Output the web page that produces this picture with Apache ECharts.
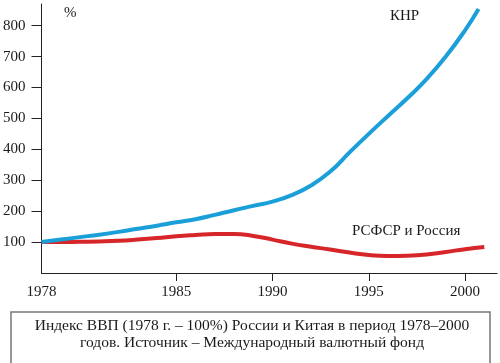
<!DOCTYPE html>
<html>
<head>
<meta charset="utf-8">
<script src="https://cdn.jsdelivr.net/npm/echarts@6/dist/echarts.min.js"></script>
<style>html,body{margin:0;padding:0;background:#fff}#c{width:500px;height:363px}</style>
</head>
<body>
<div id="c"></div>
<script>
// Data
const chinaYears = [1978,1979,1980,1981,1982,1983,1984,1985,1986,1987,1988,1989,1990,1991,1992,1993,1994,1995,1996,1997,1998,1999,2000,2000.7];
const chinaValues = [100,108,116,124,133,143,153,164,174,188,203,217,231,252,283,328,390,450,508,565,627,700,785,854];
const russiaYears = [1978,1979,1980,1981,1982,1983,1984,1985,1986,1987,1988,1989,1990,1991,1992,1993,1994,1995,1996,1997,1998,1999,2000,2001];
const russiaValues = [100,100,101,102,104,108,113,119,123,126,126,120,108,95,85,76,66,58,55,56,60,68,77,84];
const xLabelValues = [1978,1985,1990,1995,2000];
const xTickValues = [1985,1990,1995,2000];
const yTickValues = [100,200,300,400,500,600,700,800];
const seriesNames = ['КНР','РСФСР и Россия'];
const unitLabel = '%';
const captionText = 'Индекс ВВП (1978 г. – 100%) России и Китая в период 1978–2000\nгодов. Источник – Международный валютный фонд';

const font = '"Liberation Serif", "DejaVu Serif", serif';
const axisColor = '#222';
const chart = echarts.init(document.getElementById('c'), null, {renderer: 'canvas'});
chart.setOption({
  animation: false,
  backgroundColor: '#fff',
  grid: {left: 39, right: 3, top: 4, bottom: 90, containLabel: false},
  xAxis: {
    type: 'value', min: 1978, max: 2001.66,
    axisLine: {show: true, lineStyle: {color: axisColor, width: 1}},
    axisTick: {show: true, length: 8, inside: false, customValues: xTickValues, lineStyle: {color: axisColor}},
    axisLabel: {customValues: xLabelValues, margin: 12, color: '#1a1a1a', fontFamily: font, fontSize: 15, formatter: v => String(v)},
    splitLine: {show: false}
  },
  yAxis: {
    type: 'value', min: 0, max: 870,
    axisLine: {show: true, lineStyle: {color: axisColor, width: 1}},
    axisTick: {show: true, length: 10, inside: false, customValues: yTickValues, lineStyle: {color: axisColor}},
    axisLabel: {customValues: yTickValues, margin: 16, color: '#1a1a1a', fontFamily: font, fontSize: 15},
    splitLine: {show: false}
  },
  series: [
    {name: seriesNames[0], type: 'line', smooth: 0.5, symbol: 'none',
     data: chinaYears.map((y,i)=>[y, chinaValues[i]]),
     lineStyle: {color: '#1a9fd9', width: 4}, z: 3},
    {name: seriesNames[1], type: 'line', smooth: 0.5, symbol: 'none',
     data: russiaYears.map((y,i)=>[y, russiaValues[i]]),
     lineStyle: {color: '#d7262a', width: 4}, z: 2}
  ],
  graphic: [
    {type: 'text', left: 64, top: 6, style: {text: unitLabel, font: '15px ' + font, fill: '#1a1a1a'}},
    {type: 'text', left: 390, top: 9, style: {text: seriesNames[0], font: '15px ' + font, fill: '#1a1a1a'}},
    {type: 'text', left: 352, top: 224, style: {text: seriesNames[1], font: '15px ' + font, fill: '#1a1a1a'}},
    {type: 'rect', shape: {x: 11, y: 312, width: 479, height: 60}, style: {fill: 'none', stroke: '#777', lineWidth: 1.5}},
    {type: 'text', x: 252, y: 318, style: {text: captionText, font: '15.5px ' + font, fill: '#1a1a1a', align: 'center', verticalAlign: 'top', lineHeight: 16.5}}
  ]
});
</script>
</body>
</html>
